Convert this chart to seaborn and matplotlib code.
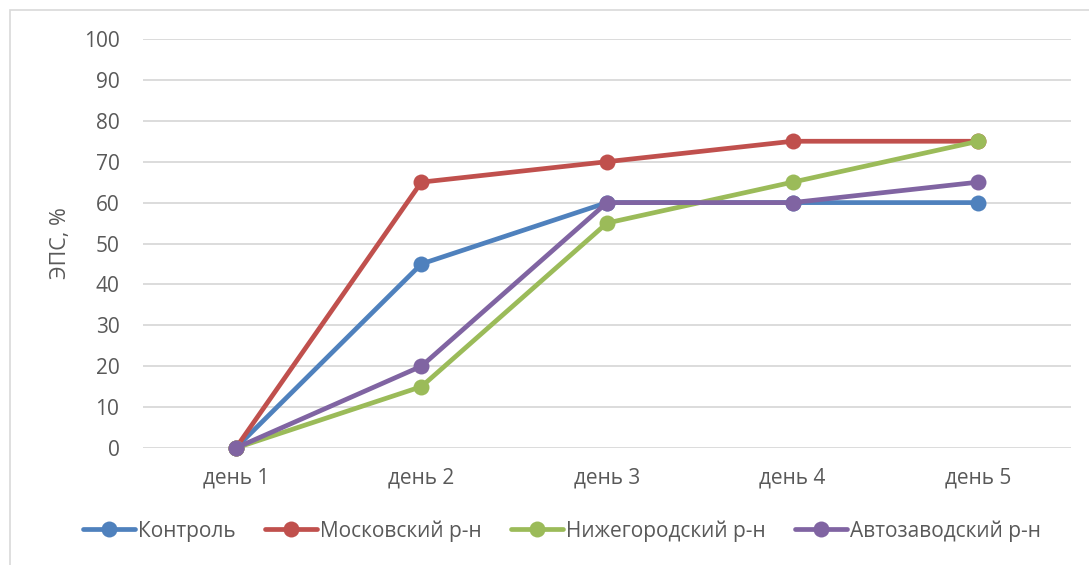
import matplotlib
matplotlib.use("Agg")
import matplotlib.pyplot as plt
import seaborn as sns
import pandas as pd
from matplotlib.patches import Rectangle

days = ["день 1", "день 2", "день 3", "день 4", "день 5"]
control = [0, 45, 60, 60, 60]
moskovsky = [0, 65, 70, 75, 75]
nizhegorodsky = [0, 15, 55, 65, 75]
avtozavodsky = [0, 20, 60, 60, 65]
series_names = ["Контроль", "Московский р-н", "Нижегородский р-н", "Автозаводский р-н"]
series_values = [control, moskovsky, nizhegorodsky, avtozavodsky]
colors = ["#4F81BD", "#C0504D", "#9BBB59", "#8064A2"]
y_ticks = list(range(0, 101, 10))

rows = []
for name, vals in zip(series_names, series_values):
    for i, (d, v) in enumerate(zip(days, vals)):
        rows.append({"day": d, "pos": i, "value": v, "series": name})
df = pd.DataFrame(rows)

sns.set_theme(style="white")
plt.rcParams["font.family"] = ["Open Sans", "DejaVu Sans"]

fig = plt.figure(figsize=(10.89, 5.65), dpi=100)
W, H = 1089, 565
ax = fig.add_axes([143 / W, 1 - 448 / H, (1071 - 143) / W, (448 - 39) / H])

sns.lineplot(data=df, x="pos", y="value", hue="series", hue_order=series_names,
             palette=colors, marker="o", markersize=11.5, markeredgewidth=0,
             linewidth=3.4, ax=ax, legend=False, sort=False)

ax.set_xlim(-0.5, 4.5)
ax.set_ylim(0, 100)
ax.set_xticks(range(len(days)))
ax.set_xticklabels(days)
ax.set_yticks(y_ticks)
ax.yaxis.grid(True, color="#D9D9D9", linewidth=1.3)
ax.set_axisbelow(True)
for s in ax.spines.values():
    s.set_visible(False)
for c in ax.lines:
    c.set_clip_on(False)
ax.tick_params(axis="both", length=0, labelsize=15, labelcolor="#595959")
ax.tick_params(axis="x", pad=14)
ax.tick_params(axis="y", pad=17)
ax.set_xlabel("")
ax.set_ylabel("ЭПС, %", fontsize=15.5, color="#595959", labelpad=9)

handles = [plt.Line2D([], [], color=c, marker="o", markersize=11.5, markeredgewidth=0,
                      linewidth=3.4) for c in colors]
fig.legend(handles, series_names, loc="center", bbox_to_anchor=(0.516, 1 - 531 / H),
           ncol=4, frameon=False, fontsize=15, labelcolor="#595959",
           handlelength=2.5, handletextpad=0.1, columnspacing=1.45)

fig.patches.append(Rectangle((10 / W, -0.1), 1.2, 1 - 10 / H + 0.1,
                             transform=fig.transFigure, fill=False,
                             edgecolor="#D9D9D9", linewidth=1.2))

fig.savefig("out.png", dpi=100, facecolor="white")
